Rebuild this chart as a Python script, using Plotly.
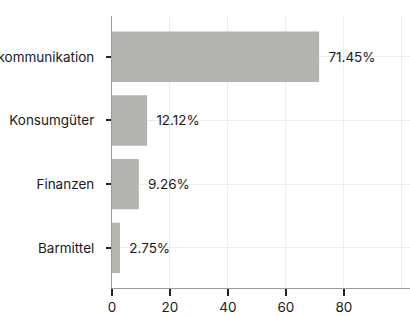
import plotly.graph_objects as go

categories = ["Telekommunikation", "Konsumgüter", "Finanzen", "Barmittel"]
values = [71.45, 12.12, 9.26, 2.75]
labels = ["71.45%", "12.12%", "9.26%", "2.75%"]
x_ticks = [0, 20, 40, 60, 80]
x_ticktext = ["0", "20", "40", "60", "80"]
x_extra_grid = [100]

fig = go.Figure(go.Bar(
    y=categories, x=values, orientation="h",
    marker=dict(color="#b5b4af", line=dict(width=0)),
    text=["\u00a0\u2009" + t for t in labels], textposition="outside",
    textfont=dict(family="Inter", size=13.5, color="#1a1a1a"),
    cliponaxis=False, width=0.79, hoverinfo="skip",
))
fig.update_layout(
    width=410, height=316,
    margin=dict(l=112, r=0, t=16, b=28, autoexpand=False),
    paper_bgcolor="white", plot_bgcolor="white",
    font=dict(family="Inter", size=13.5, color="#1a1a1a"),
    showlegend=False,
    xaxis=dict(range=[0, 102.8], tickvals=x_ticks, ticktext=x_ticktext,
               showgrid=True, gridcolor="#ececec", gridwidth=1,
               minor=dict(tickvals=x_extra_grid, showgrid=True,
                          gridcolor="#ececec", gridwidth=1, ticks=""),
               showline=True, linecolor="#9a9a9a", linewidth=1,
               ticks="outside", ticklen=7, tickcolor="#222222", tickwidth=1.5,
               zeroline=False, automargin=False),
    yaxis=dict(autorange=False, range=[3.63, -0.64],
               showgrid=True, gridcolor="#ececec", gridwidth=1,
               showline=True, linecolor="#9a9a9a", linewidth=1,
               ticks="outside", ticklen=5, tickcolor="#222222", tickwidth=1.5,
               ticklabelstandoff=9, automargin=False),
)
fig.write_html("out.html", config={"displayModeBar": False},
               post_script="document.body.style.margin='0';document.body.style.overflow='hidden';")
